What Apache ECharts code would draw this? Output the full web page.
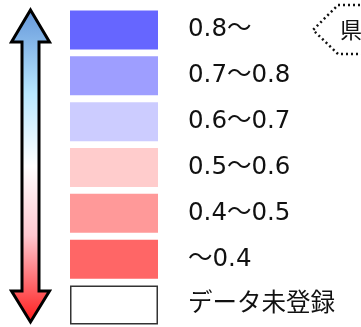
<!DOCTYPE html>
<html>
<head>
<meta charset="utf-8">
<script src="https://cdn.jsdelivr.net/npm/echarts@6/dist/echarts.min.js"></script>
<style>
  html, body { margin: 0; padding: 0; background: #fff; }
  #charts { width: 361px; height: 327px; }
</style>
</head>
<body>
<div id="charts"></div>
<script>
// legend classes, top to bottom
const categories = ["0.8〜", "0.7〜0.8", "0.6〜0.7", "0.5〜0.6", "0.4〜0.5", "〜0.4", "データ未登録"];
// every swatch is drawn full length
const values = [1, 1, 1, 1, 1, 1, 1];
const palette = ["#6666ff", "#9e9eff", "#ccccff", "#ffcccc", "#ff9999", "#ff6666", "#ffffff"];
const badgeText = "県";

let chartDom = document.getElementById("charts");
let myChart = echarts.init(chartDom);
let font = '"DejaVu Sans", "Noto Sans CJK JP", sans-serif';

let arrowFill = new echarts.graphic.LinearGradient(0, 0, 0, 1, [
  { offset: 0, color: "#6496da" },
  { offset: 0.27, color: "#b8e8ff" },
  { offset: 0.5, color: "#ffffff" },
  { offset: 0.72, color: "#ffc8d0" },
  { offset: 1, color: "#ff1a1a" },
]);

let option = {
  animation: false,
  grid: {
    left: 70,
    right: 203,
    top: 7,
    bottom: -1,
    containLabel: false,
    outerBoundsMode: "none",
  },
  xAxis: {
    type: "value",
    min: 0,
    max: 1,
    show: false,
  },
  yAxis: {
    type: "category",
    data: categories,
    inverse: true,
    position: "right",
    axisLine: { show: false },
    axisTick: { show: false },
    splitLine: { show: false },
    axisLabel: {
      margin: 30,
      align: "left",
      color: "#111",
      fontSize: 24.5,
      fontFamily: font,
    },
  },
  series: [
    {
      type: "bar",
      barWidth: 39,
      data: values.map(function (v, i) {
        let last = i === values.length - 1;
        return {
          value: v,
          itemStyle: {
            color: palette[i],
            borderColor: last ? "#333" : palette[i],
            borderWidth: last ? 1.5 : 0,
          },
        };
      }),
    },
  ],
  graphic: [
    {
      type: "polygon",
      shape: {
        points: [
          [30.5, 10], [49.5, 42], [39, 42], [39, 291], [49.5, 291],
          [30.5, 322], [11.5, 291], [22, 291], [22, 42], [11.5, 42],
        ],
      },
      style: {
        fill: arrowFill,
        stroke: "#000",
        lineWidth: 3,
        lineJoin: "miter",
      },
    },
    {
      type: "polyline",
      shape: {
        points: [[365, 5], [338, 5], [313, 30], [338, 54], [365, 54]],
      },
      style: {
        stroke: "#111",
        lineWidth: 2.5,
        lineDash: [2, 3],
        fill: null,
      },
    },
    {
      type: "text",
      x: 340,
      y: 30,
      style: {
        text: badgeText,
        fill: "#111",
        font: '22px "Noto Sans CJK JP", sans-serif',
        verticalAlign: "middle",
      },
    },
  ],
};

option && myChart.setOption(option);
</script>
</body>
</html>
